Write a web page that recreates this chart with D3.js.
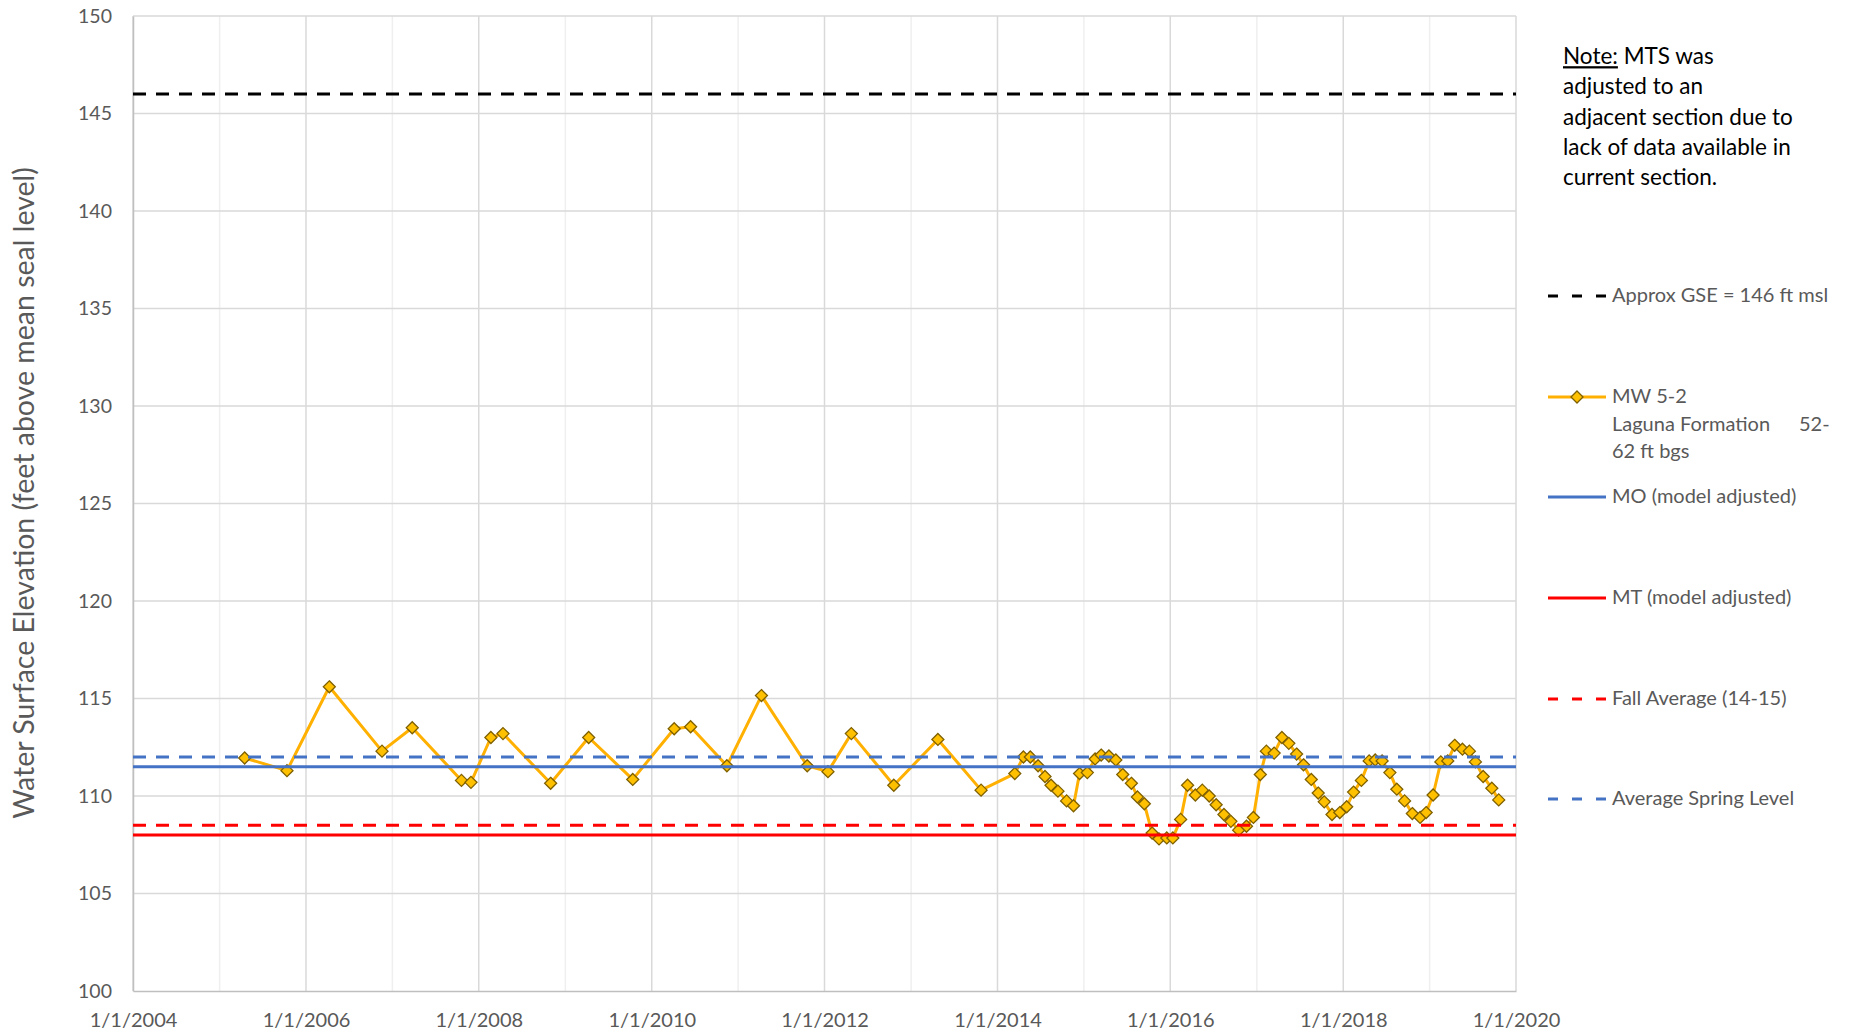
<!DOCTYPE html>
<html>
<head>
<meta charset="utf-8">
<script src="https://cdn.jsdelivr.net/npm/d3@7"></script>
<style>
  html, body { margin: 0; padding: 0; background: #fff; }
  svg { display: block; }
  text { font-family: Lato, "Open Sans", sans-serif; }
</style>
</head>
<body>
<svg id="chart" width="1850" height="1036"></svg>
<script>
// ---- data ----
const sampleYears = [
  2005.29, 2005.78, 2006.27, 2006.88, 2007.23, 2007.80, 2007.91, 2008.14, 2008.28, 2008.83,
  2009.27, 2009.78, 2010.26, 2010.45, 2010.87, 2011.27, 2011.80, 2012.04, 2012.31, 2012.80,
  2013.31, 2013.81, 2014.20, 2014.30, 2014.38, 2014.47, 2014.55, 2014.62, 2014.70, 2014.80,
  2014.88, 2014.95, 2015.04, 2015.13, 2015.20, 2015.29, 2015.37, 2015.45, 2015.55, 2015.62,
  2015.70, 2015.79, 2015.87, 2015.96, 2016.03, 2016.12, 2016.20, 2016.29, 2016.37, 2016.45,
  2016.53, 2016.62, 2016.70, 2016.79, 2016.88, 2016.96, 2017.04, 2017.11, 2017.20, 2017.29,
  2017.37, 2017.46, 2017.54, 2017.63, 2017.71, 2017.78, 2017.87, 2017.96, 2018.04, 2018.12,
  2018.21, 2018.30, 2018.37, 2018.45, 2018.54, 2018.62, 2018.71, 2018.80, 2018.89, 2018.96,
  2019.04, 2019.13, 2019.21, 2019.29, 2019.38, 2019.46, 2019.53, 2019.62, 2019.72, 2019.80
];
const mw52Values = [
  111.95, 111.3, 115.6, 112.3, 113.5, 110.8, 110.7, 113.0, 113.2, 110.65,
  113.0, 110.85, 113.45, 113.55, 111.55, 115.15, 111.55, 111.25, 113.2, 110.55,
  112.9, 110.3, 111.15, 112.0, 112.0, 111.55, 111.0, 110.55, 110.25, 109.75,
  109.5, 111.15, 111.2, 111.9, 112.1, 112.05, 111.85, 111.1, 110.65, 109.95,
  109.6, 108.1, 107.8, 107.85, 107.85, 108.8, 110.55, 110.05, 110.3, 110.0,
  109.55, 109.05, 108.7, 108.25, 108.45, 108.9, 111.1, 112.3, 112.2, 113.0,
  112.7, 112.15, 111.6, 110.85, 110.15, 109.7, 109.05, 109.15, 109.45, 110.2,
  110.8, 111.8, 111.85, 111.8, 111.2, 110.35, 109.75, 109.1, 108.9, 109.15,
  110.05, 111.75, 111.8, 112.6, 112.4, 112.3, 111.75, 111.0, 110.4, 109.8
];
const referenceNames = ["Approx GSE = 146 ft msl", "MO (model adjusted)", "MT (model adjusted)", "Fall Average (14-15)", "Average Spring Level"];
const referenceValues = [146, 111.5, 108, 108.5, 112.0];
const referenceColors = ["#000000", "#4472C4", "#FF0000", "#FF0000", "#4472C4"];
const referenceDashed = [true, false, false, true, true];
const yTicks = [100, 105, 110, 115, 120, 125, 130, 135, 140, 145, 150];
const xTickYears = [2004, 2006, 2008, 2010, 2012, 2014, 2016, 2018, 2020];
const xMinorYears = [2005, 2007, 2009, 2011, 2013, 2015, 2017, 2019];
const seriesName = ["MW 5-2", "Laguna Formation", "62 ft bgs"];
const noteLines = ["MTS was", "adjusted to an", "adjacent section due to", "lack of data available in", "current section."];
const yTitle = "Water Surface Elevation (feet above mean seal level)";

// ---- helpers ----
function yearToDate(yv) {
  const yr = Math.floor(yv);
  const start = new Date(yr, 0, 1).getTime();
  const end = new Date(yr + 1, 0, 1).getTime();
  return new Date(start + (yv - yr) * (end - start));
}

const svg = d3.select("#chart");
const plotL = 133, plotR = 1516, plotT = 16, plotB = 991;

const x = d3.scaleTime()
  .domain([new Date(2004, 0, 1), new Date(2020, 0, 1)])
  .range([plotL, plotR]);
const y = d3.scaleLinear().domain([100, 150]).range([plotB, plotT]);

const data = sampleYears.map((yr, i) => ({ date: yearToDate(yr), value: mw52Values[i] }));

// gridlines
const grid = svg.append("g");
grid.selectAll("line.minor").data(xMinorYears).join("line")
  .attr("x1", d => x(new Date(d, 0, 1))).attr("x2", d => x(new Date(d, 0, 1)))
  .attr("y1", plotT).attr("y2", plotB)
  .attr("stroke", "#efefef").attr("stroke-width", 1.5);
grid.selectAll("line.major").data(xTickYears).join("line")
  .attr("x1", d => x(new Date(d, 0, 1))).attr("x2", d => x(new Date(d, 0, 1)))
  .attr("y1", plotT).attr("y2", plotB)
  .attr("stroke", "#d9d9d9").attr("stroke-width", 1.5);
grid.selectAll("line.h").data(yTicks.filter(d => d > 100)).join("line")
  .attr("x1", plotL).attr("x2", plotR)
  .attr("y1", d => y(d)).attr("y2", d => y(d))
  .attr("stroke", "#d9d9d9").attr("stroke-width", 1.5);

// axes
const yAxis = d3.axisLeft(y).tickValues(yTicks).tickSize(0).tickPadding(21);
const gy = svg.append("g").attr("transform", `translate(${plotL},0)`).call(yAxis);
gy.select(".domain").attr("stroke", "#bfbfbf").attr("stroke-width", 1.5);
gy.selectAll("text").attr("fill", "#595959").style("font-size", "19.5px");

const xAxis = d3.axisBottom(x)
  .tickValues(xTickYears.map(d => new Date(d, 0, 1)))
  .tickFormat(d3.timeFormat("%-m/%-d/%Y"))
  .tickSize(0).tickPadding(22);
const gx = svg.append("g").attr("transform", `translate(0,${plotB})`).call(xAxis);
gx.select(".domain").attr("stroke", "#bfbfbf").attr("stroke-width", 1.5);
gx.selectAll("text").attr("fill", "#595959").style("font-size", "20px");

// y title
svg.append("text")
  .attr("transform", `translate(27,493) rotate(-90)`)
  .attr("text-anchor", "middle")
  .attr("dominant-baseline", "middle")
  .attr("fill", "#595959")
  .style("font-size", "28.5px")
  .text(yTitle);

// series
const line = d3.line().x(d => x(d.date)).y(d => y(d.value));
svg.append("path").datum(data)
  .attr("d", line)
  .attr("fill", "none")
  .attr("stroke", "#FFB000")
  .attr("stroke-width", 3)
  .attr("stroke-linejoin", "round");

const diamond = "M0,-6L6,0L0,6L-6,0Z";
svg.append("g").selectAll("path").data(data).join("path")
  .attr("transform", d => `translate(${x(d.date)},${y(d.value)})`)
  .attr("d", diamond)
  .attr("fill", "#FFC000")
  .attr("stroke", "#7F6000")
  .attr("stroke-width", 1.3);

// reference lines
svg.append("g").selectAll("line").data(referenceValues).join("line")
  .attr("x1", plotL).attr("x2", plotR)
  .attr("y1", d => y(d)).attr("y2", d => y(d))
  .attr("stroke", (d, i) => referenceColors[i])
  .attr("stroke-width", 3)
  .attr("stroke-dasharray", (d, i) => referenceDashed[i] ? "13,10" : null);

// legend
const legX1 = 1548, legX2 = 1606, legText = 1612;
const legFont = "20px";
const legendRows = [
  { type: "ref", idx: 0, y: 296 },
  { type: "ser", y: 397 },
  { type: "ref", idx: 1, y: 497 },
  { type: "ref", idx: 2, y: 598 },
  { type: "ref", idx: 3, y: 699 },
  { type: "ref", idx: 4, y: 799 }
];
const leg = svg.append("g");
legendRows.forEach(r => {
  if (r.type === "ref") {
    leg.append("line").attr("x1", legX1).attr("x2", legX2).attr("y1", r.y).attr("y2", r.y)
      .attr("stroke", referenceColors[r.idx]).attr("stroke-width", 3)
      .attr("stroke-dasharray", referenceDashed[r.idx] ? "10,14" : null);
    leg.append("text").attr("x", legText).attr("y", r.y + 1).attr("dominant-baseline", "middle")
      .attr("fill", "#595959").style("font-size", legFont).text(referenceNames[r.idx]);
  } else {
    leg.append("line").attr("x1", legX1).attr("x2", legX2).attr("y1", r.y).attr("y2", r.y)
      .attr("stroke", "#FFB000").attr("stroke-width", 3);
    leg.append("path").attr("transform", `translate(${(legX1 + legX2) / 2},${r.y})`)
      .attr("d", diamond).attr("fill", "#FFC000").attr("stroke", "#7F6000").attr("stroke-width", 1.3);
    const t = leg.append("text").attr("fill", "#595959").style("font-size", legFont);
    t.append("tspan").attr("x", legText).attr("y", r.y + 1).attr("dominant-baseline", "middle").text(seriesName[0]);
    t.append("tspan").attr("x", legText).attr("y", r.y + 29).attr("dominant-baseline", "middle").text(seriesName[1]);
    t.append("tspan").attr("x", 1799).attr("y", r.y + 29).attr("dominant-baseline", "middle").text("52-");
    t.append("tspan").attr("x", legText).attr("y", r.y + 56).attr("dominant-baseline", "middle").text(seriesName[2]);
  }
});

// note
const note = svg.append("text").attr("fill", "#000").style("font-size", "22.5px");
noteLines.forEach((s, i) => {
  const ty = 58.5 + i * 30.2;
  if (i === 0) {
    note.append("tspan").attr("x", 1563).attr("y", ty).attr("dominant-baseline", "middle")
      .style("text-decoration", "underline").text("Note:");
    note.append("tspan").attr("dominant-baseline", "middle").text(" " + s);
  } else {
    note.append("tspan").attr("x", 1563).attr("y", ty).attr("dominant-baseline", "middle").text(s);
  }
});
</script>
</body>
</html>
